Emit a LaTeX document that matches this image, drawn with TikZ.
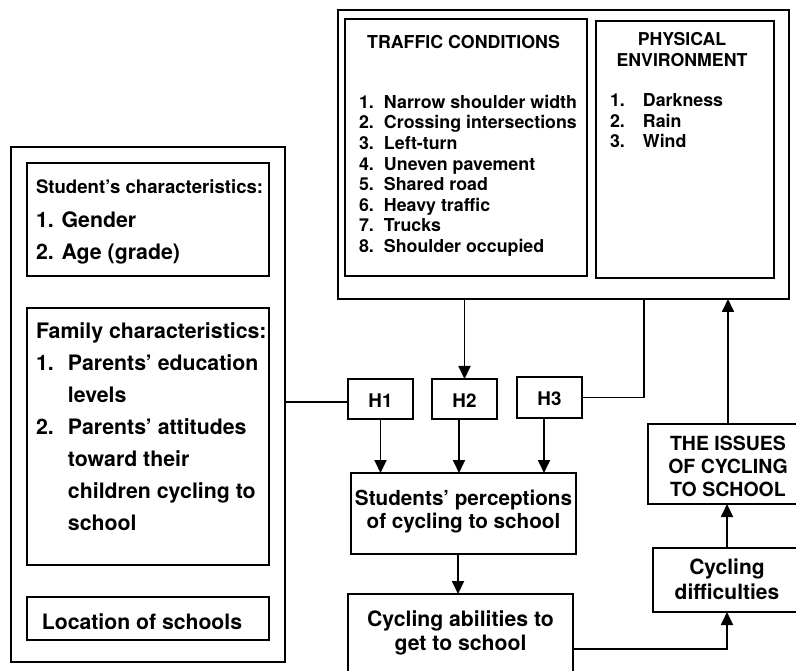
\documentclass[tikz,border=0pt]{standalone}
\usepackage{fontspec}
\setmainfont{TeX Gyre Heros}
\usetikzlibrary{arrows.meta}
\newcommand{\fsz}[2]{\bfseries\fontsize{#1}{#2}\selectfont}
\begin{document}
\begin{tikzpicture}[x=1pt,y=-1pt,
  box/.style={draw, line width=1.8pt, inner sep=0pt, outer sep=0pt},
  lbl/.style={inner sep=0pt, outer sep=0pt, anchor=base},
  lbll/.style={inner sep=0pt, outer sep=0pt, anchor=base west},
  arr/.style={line width=1.8pt, -{Triangle[width=12pt,length=13pt]}},
  con/.style={line width=1.8pt}]
\useasboundingbox (0,0) rectangle (796,671);
\clip (0,0) rectangle (796,671);
\fill[white] (0,0) rectangle (796,671);

% top environment box
\node[box, minimum width=451pt, minimum height=289pt] (env) at (563.5,154.5) {};
\node[box, minimum width=242pt, minimum height=257pt] (traffic) at (466,147.5) {};
\node[box, minimum width=178pt, minimum height=257pt] (phys) at (685,149.5) {};
\node[lbl, font=\fsz{17.8}{20.6}] (traffict) at (463.5,49) {TRAFFIC CONDITIONS};
\node[lbll, font=\fsz{17.8}{20.6}] (trafficl) at (359,108.3) {\begin{tabular}[t]{@{}l@{}}
\makebox[25pt][l]{1.}Narrow shoulder width\\
\makebox[25pt][l]{2.}Crossing intersections\\
\makebox[25pt][l]{3.}Left-turn\\
\makebox[25pt][l]{4.}Uneven pavement\\
\makebox[25pt][l]{5.}Shared road\\
\makebox[25pt][l]{6.}Heavy traffic\\
\makebox[25pt][l]{7.}Trucks\\
\makebox[25pt][l]{8.}Shoulder occupied
\end{tabular}};
\node[lbl, font=\fsz{17.7}{21.4}] (physt) at (682,45.3) {\begin{tabular}[t]{@{}c@{}}PHYSICAL\\ENVIRONMENT\end{tabular}};
\node[lbll, font=\fsz{17.8}{20.6}] (physl) at (610,106.7) {\begin{tabular}[t]{@{}l@{}}
\makebox[33pt][l]{1.}Darkness\\
\makebox[33pt][l]{2.}Rain\\
\makebox[33pt][l]{3.}Wind
\end{tabular}};

% left box
\node[box, minimum width=274pt, minimum height=515pt] (left) at (148,404.5) {};
\node[box, minimum width=242pt, minimum height=113pt] (student) at (148,219.5) {};
\node[box, minimum width=242pt, minimum height=257pt] (family) at (148,436.5) {};
\node[box, minimum width=242pt, minimum height=43pt] (location) at (148,618.5) {};
\node[lbll, font=\fsz{18.6}{22}] (studentt) at (36,194) {Student’s characteristics:};
\node[lbll, font=\fsz{21.3}{32}] (studentl) at (36,227.3) {\begin{tabular}[t]{@{}l@{}}
1. Gender\\
2. Age (grade)
\end{tabular}};
\node[lbll, font=\fsz{21.3}{32}] (familyt) at (36,338.3) {\begin{tabular}[t]{@{}l@{}}
Family characteristics:\\
\makebox[32pt][l]{1.}Parents’ education\\
\hspace*{32pt}levels\\
\makebox[32pt][l]{2.}Parents’ attitudes\\
\hspace*{32pt}toward their\\
\hspace*{32pt}children cycling to\\
\hspace*{32pt}school
\end{tabular}};
\node[lbl, font=\fsz{21.2}{25}] (locationt) at (142,629.3) {Location of schools};

% hypotheses
\node[box, minimum width=65pt, minimum height=40pt] (h1) at (380.5,399) {};
\node[box, minimum width=65pt, minimum height=40pt] (h2) at (464.5,399) {};
\node[box, minimum width=65pt, minimum height=41pt] (h3) at (549.5,397.5) {};
\node[lbl, font=\fsz{18.8}{22}] (h1t) at (380.5,407.3) {H1};
\node[lbl, font=\fsz{18.8}{22}] (h2t) at (464.5,407.3) {H2};
\node[lbl, font=\fsz{18.8}{22}] (h3t) at (549.5,405.3) {H3};

% central chain
\node[box, minimum width=225pt, minimum height=81pt] (perc) at (463.5,513.5) {};
\node[lbl, font=\fsz{20.7}{23.7}] (perct) at (463.5,505) {\begin{tabular}[t]{@{}c@{}}Students’ perceptions\\of cycling to school\end{tabular}};
\node[box, minimum width=225pt, minimum height=96pt] (abil) at (460.5,642) {};
\node[lbl, font=\fsz{21.2}{23.5}] (abilt) at (460.5,626.7) {\begin{tabular}[t]{@{}c@{}}Cycling abilities to\\get to school\end{tabular}};
\node[box, minimum width=148pt, minimum height=64pt] (diff) at (727,580) {};
\node[lbl, font=\fsz{21}{25}] (difft) at (727,574) {\begin{tabular}[t]{@{}c@{}}Cycling\\difficulties\end{tabular}};
\node[box, minimum width=160pt, minimum height=80pt] (issues) at (728,464) {};
\node[lbl, font=\fsz{19.5}{23.3}] (issuest) at (728,450) {\begin{tabular}[t]{@{}c@{}}THE ISSUES\\OF CYCLING\\TO SCHOOL\end{tabular}};

% connectors
\path ([yshift=-3pt]h1.west) coordinate (h1in);
\draw[con] (h1in -| left.east) -- (h1in);
\draw[con] (h3.east) -| ([xshift=80.5pt]env.south);
\draw[arr] (env.south -| h2.north) -- (h2.north);
\draw[arr] (h1.south) -- (h1.south |- perc.north);
\path ([xshift=-5.5pt]h2.south) coordinate (h2out);
\draw[arr] (h2out) -- (h2out |- perc.north);
\path ([xshift=-5.5pt]h3.south) coordinate (h3out);
\draw[arr] (h3out) -- (h3out |- perc.north);
\path ([xshift=-5.5pt]perc.south) coordinate (pout);
\draw[arr] (pout) -- (pout |- abil.north);
\path ([yshift=-7pt]abil.east) coordinate (aout);
\draw[arr] (aout) -| (diff.south);
\draw[arr] (diff.north) -- (diff.north |- issues.south);
\draw[arr] (issues.north) -- (issues.north |- env.south);
\end{tikzpicture}
\end{document}
